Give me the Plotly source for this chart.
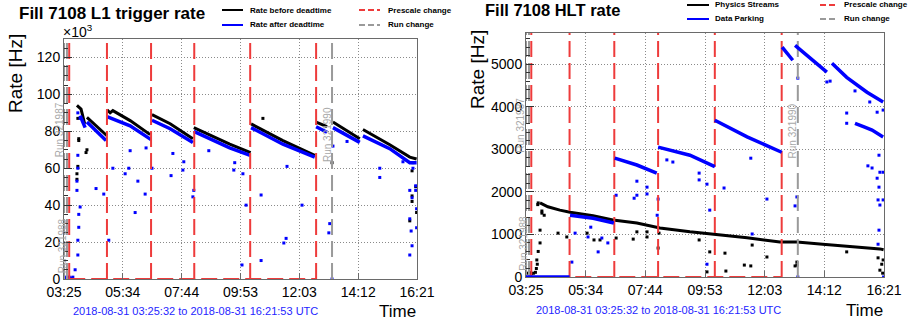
import plotly.graph_objects as go

DAY = "2018-08-31 "
T_START = "03:25:32"
T_END = "16:21:53"
tick_times = ["03:25:32", "05:34:55", "07:44:19", "09:53:42", "12:03:06", "14:12:29", "16:21:53"]
tick_labels = ["03:25", "05:34", "07:44", "09:53", "12:03", "14:12", "16:21"]

prescale_times = ["03:37", "05:00", "06:37", "08:12", "10:15", "12:40"]
run_times = ["03:25:32", "03:32", "13:15"]
run_labels = ["Run 321987", "Run 321988", "Run 321990"]

# ---------------- L1 trigger rate (units of 10^3 Hz) ----------------
l1_before_band_t = ["03:54", "04:03", "04:11", None,
                    "04:16", "04:38", "05:00", None,
                    "05:00", "05:07", "05:13", "05:51", "06:35", None,
                    "06:39", "07:19", "08:09", None,
                    "08:11", "09:30", "10:16", None,
                    "10:17", "11:27", "12:37", None,
                    "12:40", "13:04", None,
                    "13:17", "13:48", "14:16", None,
                    "14:23", "15:22", "16:06", "16:21"]
l1_before_band_v = [94, 92, 84, None,
                    87.5, 82.5, 77.6, None,
                    91.7, 90, 91.2, 85.8, 78.2, None,
                    89, 84.1, 76, None,
                    82, 73, 68.5, None,
                    84, 75, 67, None,
                    85, 82.5, None,
                    85, 80.3, 76, None,
                    81, 72.7, 66, 65]
l1_before_pts_t = ["03:54", "03:54", "03:56", "03:58", "03:58", "03:56", "04:16", "04:14",
                   "10:43", "13:15", "16:11", "16:11", "16:06", "16:11", "16:19", "16:21"]
l1_before_pts_v = [54, 57, 61, 75, 76, 87, 70, 68.5,
                   87, 63, 45, 42, 31.5, 58.6, 50, 36]

l1_after_band_t = ["04:01", "04:12", None,
                   "04:16", "04:58", None,
                   "05:00", "05:51", "06:37", None,
                   "06:39", "07:19", "08:09", None,
                   "08:11", "09:30", "10:15", None,
                   "10:17", "11:27", "12:37", None,
                   "12:40", "13:04", None,
                   "13:17", "13:48", "14:16", None,
                   "14:23", "15:22", "16:06", "16:21"]
l1_after_band_v = [88.5, 82, None,
                   85, 75, None,
                   88, 83, 75.5, None,
                   86, 81.4, 74, None,
                   80, 71, 67, None,
                   82, 73, 66, None,
                   82.5, 79.5, None,
                   82, 77.6, 74, None,
                   77.5, 70.6, 63, 63]
l1_after_pts_t = ["03:26", "03:29", "03:32", "03:37", "03:41", "03:45", "03:50", "03:56", "03:56",
                  "03:58", "04:01", "03:58", "03:54", "03:54", "03:56", "03:56", "04:01", "03:56",
                  "04:36", "04:53", "05:04", "05:13", "05:40", "05:48", "05:51", "06:02", "06:08",
                  "06:24", "06:26", "06:39", "07:21", "07:25", "07:47", "07:49", "08:09", "08:11",
                  "08:44", "09:41", "09:39", "09:59", "10:06", "09:57", "10:39", "10:39", "11:36",
                  "11:34", "11:29", "12:09", "13:10", "13:08", "13:17", "13:48", "15:00", "15:00",
                  "15:51", "16:06", "16:11", "16:06", "16:09", "16:11", "16:06", "16:19", "16:19",
                  "16:21", "16:21", "16:13", "16:13", "13:15"]
l1_after_pts_v = [1, 0.5, 1, 1, 0.5, 1, 5, 13, 21,
                  28, 39, 35, 48, 53, 60, 67, 87, 90,
                  49, 46, 21, 60, 57, 60, 69.5, 36, 53,
                  46, 71, 60, 56, 68, 59, 63.5, 44.5, 48,
                  69.5, 63, 59, 57, 40, 7.6, 45.5, 10, 61,
                  22, 19.5, 40, 30, 25, 72, 74.5, 60, 55,
                  63.5, 48, 44, 32.6, 26, 18, 13, 50.5, 48,
                  38, 27.7, 60, 63, 0]

# ---------------- HLT rate (Hz) ----------------
phys_band_t = ["03:56", "04:13", "04:39", "05:01", "05:51", "06:34", "07:26", "08:16", "09:21",
               "10:11", "11:25", "12:36", "13:13", "14:09", "15:01", "16:13", "16:21"]
phys_band_v = [1740, 1650, 1570, 1520, 1440, 1340, 1270, 1150, 1060,
               1010, 920, 820, 820, 770, 730, 660, 640]
phys_pts_t = ["03:30", "03:34", "03:38", "03:42", "03:46", "03:49", "03:52", "03:56", "03:56",
              "04:00", "03:52", "03:51", "04:00", "04:05", "03:50", "03:48",
              "04:54", "04:35", "05:38", "05:53", "06:06", "06:41", "07:18", "07:26", "07:48",
              "07:48", "08:12", "08:14", "09:41", "10:04", "10:37", "10:39", "11:33", "11:36",
              "12:08", "13:09", "13:13", "15:01", "16:09", "16:13", "16:19", "16:17", "16:20",
              "09:58", "11:19", "13:13"]
phys_pts_v = [90, 100, 80, 90, 110, 400, 600, 800, 1100,
              1500, 1740, 1700, 1550, 1450, 300, 200,
              940, 1030, 1030, 870, 870, 915, 890, 1060, 1060,
              940, 680, 1030, 870, 590, 560, 140, 260, 750,
              470, 260, 350, 590, 450, 160, 90, 300, 400,
              120, 280, 280]

park_band_t = ["03:25:32", "05:00", None,
               "05:01", "05:51", "06:36", None,
               "06:38", "07:26", "08:09", None,
               "08:12", "09:21", "10:15", None,
               "10:15", "11:25", "12:40", None,
               "12:41", "13:04", None,
               "13:09", "13:48", "14:18", None,
               "14:29", "15:01", "15:45", "16:13", "16:20", None,
               "15:19", "15:30", "15:40", "15:56", "16:13", "16:20"]
park_band_v = [0, 0, None,
               1450, 1380, 1270, None,
               2790, 2630, 2440, None,
               3050, 2860, 2590, None,
               3680, 3290, 2930, None,
               5400, 5090, None,
               5440, 5090, 4810, None,
               5020, 4690, 4340, 4150, 4110, None,
               3610, 3570, 3520, 3450, 3330, 3290]
park_pts_t = ["05:05", "05:12", "05:40", "05:46", "06:02", "06:23", "06:10", "06:41", "07:26",
              "07:20", "07:26", "07:48", "07:48", "08:10", "08:12", "08:31", "08:44", "09:41",
              "09:41", "09:58", "10:04", "09:58", "10:35", "11:33", "12:08", "11:36", "13:15",
              "14:18", "14:25", "15:19", "15:51", "16:07", "16:20", "15:01", "15:01", "15:47",
              "15:56", "16:11", "16:13", "16:20", "16:07", "16:11", "16:09", "16:13", "16:20",
              "16:11", "16:09", "13:13", "13:09", "16:21", "13:15"]
park_pts_v = [350, 1030, 940, 1170, 590, 800, 915, 1920, 2250,
              1850, 1920, 2110, 1950, 1450, 1830, 2750, 2700, 2440,
              2280, 2180, 1570, 300, 2090, 2790, 1830, 1010, 4670,
              4580, 4600, 4370, 4110, 3870, 3920, 3850, 3610, 2610,
              2560, 2860, 2460, 2460, 2320, 2110, 1810, 1690, 1810,
              1100, 770, 1880, 1670, 0, 0]

# ---------------- helpers ----------------
FONT = "Liberation Sans, Arial, Helvetica, sans-serif"
RED = "#ee3b3b"
GRAY = "#9a9a9a"
FRAME = "#6a6a6a"
GRID = "#8a8a8a"
W, H = 911, 325
L1_MAX = 130
HLT_MAX = 5730


def ts(lst):
    out = []
    for t in lst:
        if t is None:
            out.append(None)
        else:
            out.append(DAY + (t if t.count(":") == 2 else t + ":00"))
    return out


def vlines(times, ymax):
    xs, ys = [], []
    for t in ts(times):
        xs += [t, t, None]
        ys += [0, ymax, None]
    return xs, ys


fig = go.Figure()


def add_panel(xa, ya, ymax, black_band, black_pts, blue_band, blue_pts, blue_last=False):
    fig.add_trace(go.Scatter(x=ts(black_band[0]), y=black_band[1], mode="lines",
                             line=dict(color="black", width=3), connectgaps=False,
                             xaxis=xa, yaxis=ya, showlegend=False, hoverinfo="skip"))
    fig.add_trace(go.Scatter(x=ts(black_pts[0]), y=black_pts[1], mode="markers",
                             marker=dict(color="black", size=3, symbol="square"),
                             xaxis=xa, yaxis=ya, showlegend=False, hoverinfo="skip"))
    blue_tr = go.Scatter(x=ts(blue_band[0]), y=blue_band[1], mode="lines",
                         line=dict(color="#0000ff", width=3.5), connectgaps=False,
                         xaxis=xa, yaxis=ya, showlegend=False, hoverinfo="skip")
    if not blue_last:
        fig.add_trace(blue_tr)
    fig.add_trace(go.Scatter(x=ts(blue_pts[0]), y=blue_pts[1], mode="markers",
                             marker=dict(color="#0000ff", size=3, symbol="square"),
                             xaxis=xa, yaxis=ya, showlegend=False, hoverinfo="skip"))
    rx, ry = vlines(run_times, ymax)
    fig.add_trace(go.Scatter(x=rx, y=ry, mode="lines",
                             line=dict(color=GRAY, width=2, dash="16px,6px"),
                             xaxis=xa, yaxis=ya, showlegend=False, hoverinfo="skip"))
    px_, py_ = vlines(prescale_times, ymax)
    fig.add_trace(go.Scatter(x=px_, y=py_, mode="lines",
                             line=dict(color=RED, width=2, dash="16px,6px"),
                             xaxis=xa, yaxis=ya, showlegend=False, hoverinfo="skip"))
    # bottom connection of the prescale markers
    fig.add_trace(go.Scatter(x=ts([prescale_times[0], prescale_times[-1]]), y=[0, 0], mode="lines",
                             line=dict(color=RED, width=2, dash="16px,6px"),
                             xaxis=xa, yaxis=ya, showlegend=False, hoverinfo="skip"))
    if blue_last:
        fig.add_trace(blue_tr)


add_panel("x", "y", L1_MAX, (l1_before_band_t, l1_before_band_v), (l1_before_pts_t, l1_before_pts_v),
          (l1_after_band_t, l1_after_band_v), (l1_after_pts_t, l1_after_pts_v))
add_panel("x2", "y2", HLT_MAX, (phys_band_t, phys_band_v), (phys_pts_t, phys_pts_v),
          (park_band_t, park_band_v), (park_pts_t, park_pts_v), blue_last=True)


def px_x(p):
    return p / W


def px_y(p):
    return 1 - p / H


xcommon = dict(type="date", range=[DAY + T_START, DAY + T_END], tickmode="array",
               tickvals=[DAY + t for t in tick_times], ticktext=tick_labels,
               ticks="inside", ticklen=6, tickcolor=FRAME, showgrid=True, gridcolor=GRID,
               griddash="1px,2px", gridwidth=1, showline=True, linecolor=FRAME, linewidth=1, mirror=True,
               tickfont=dict(family=FONT, size=14, color="black"), zeroline=False, automargin=False)
ycommon = dict(ticks="inside", ticklen=8, tickcolor="#333", showgrid=True, gridcolor=GRID,
               griddash="1px,2px", gridwidth=1, showline=True, linecolor=FRAME, linewidth=1, mirror=True,
               tickfont=dict(family=FONT, size=14, color="black"), zeroline=False, automargin=False)

fig.update_layout(
    width=W, height=H, margin=dict(l=0, r=0, t=0, b=0, pad=0), autosize=False,
    paper_bgcolor="white", plot_bgcolor="white", showlegend=False,
    xaxis=dict(xcommon, domain=[px_x(64), px_x(417)], anchor="y"),
    yaxis=dict(ycommon, domain=[px_y(279), px_y(39)], range=[0, L1_MAX], dtick=20, anchor="x",
               minor=dict(ticks="inside", ticklen=4, dtick=5, tickcolor="#333", showgrid=False)),
    xaxis2=dict(xcommon, domain=[px_x(526), px_x(884)], anchor="y2"),
    yaxis2=dict(ycommon, domain=[px_y(277), px_y(33)], range=[0, HLT_MAX], dtick=1000, anchor="x2",
                minor=dict(ticks="inside", ticklen=4, dtick=200, tickcolor="#333", showgrid=False)),
)

ann = []
shapes = []


def text(x, y, s, size, color="black", xanchor="left", bold=False, angle=0, yanchor="middle"):
    ann.append(dict(x=px_x(x), y=px_y(y), xref="paper", yref="paper", text=("<b>%s</b>" % s) if bold else s,
                    showarrow=False, xanchor=xanchor, yanchor=yanchor, textangle=angle,
                    font=dict(family=FONT, size=size, color=color)))


def legline(x0, x1, y, color, dash="solid"):
    shapes.append(dict(type="line", xref="paper", yref="paper", x0=px_x(x0), x1=px_x(x1),
                       y0=px_y(y), y1=px_y(y), line=dict(color=color, width=2, dash=dash)))


# left panel texts
text(17, 13, "Fill 7108 L1 trigger rate", 17, bold=True)
text(61, 31, "×10<sup>3</sup>", 14)
text(16, 74, "Rate [Hz]", 19, xanchor="center", angle=-90)
text(195, 311, "2018-08-31 03:25:32 to 2018-08-31 16:21:53 UTC", 11, color="#2525ff", xanchor="center")
text(418, 311, "Time", 17, xanchor="right")
legline(222, 243, 10, "black"); text(248, 10, "Rate before deadtime", 8, bold=True)
legline(222, 243, 25, "#0000ff"); text(248, 25, "Rate after deadtime", 8, bold=True)
legline(359, 380, 10, RED, "6px,3px"); text(386, 10, "Prescale change", 8, bold=True)
legline(359, 380, 25, GRAY, "6px,3px"); text(386, 25, "Run change", 8, bold=True)

# right panel texts
text(483, 10, "Fill 7108 HLT rate", 16.5, bold=True)
text(477, 69, "Rate [Hz]", 19, xanchor="center", angle=-90)
text(658, 310, "2018-08-31 03:25:32 to 2018-08-31 16:21:53 UTC", 11, color="#2525ff", xanchor="center")
text(885, 310, "Time", 17, xanchor="right")
legline(687, 709, 5, "black"); text(713, 5, "Physics Streams", 8, bold=True)
legline(687, 709, 19, "#0000ff"); text(713, 19, "Data Parking", 8, bold=True)
legline(820, 838, 5, RED, "6px,3px"); text(842, 5, "Prescale change", 8, bold=True)
legline(820, 838, 19, GRAY, "6px,3px"); text(842, 19, "Run change", 8, bold=True)

# run labels
run_label_y = [0.62, 0.14, 0.60]
for xr, yr in (("x", "y"), ("x2", "y2")):
    for t, lab, yy in zip(ts(run_times), run_labels, run_label_y):
        ann.append(dict(x=t, y=yy, xref=xr, yref=yr + " domain", text=lab, showarrow=False,
                        textangle=-90, xshift=-5, xanchor="center", yanchor="middle",
                        font=dict(family=FONT, size=10, color="#a8a8a8")))

fig.update_layout(annotations=ann, shapes=shapes)
fig.write_html("out.html")
